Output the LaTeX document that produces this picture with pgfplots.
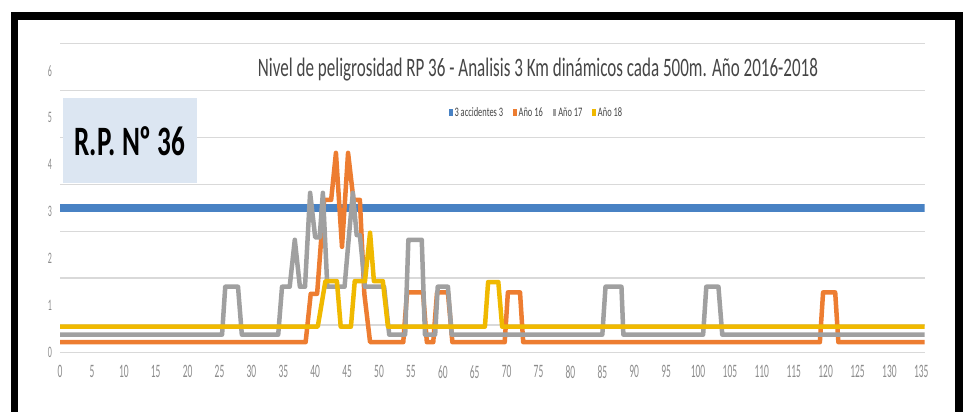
\documentclass[border=0pt]{standalone}
\usepackage{pgfplots}
\pgfplotsset{compat=1.18}
\usepackage{fontspec}
\setmainfont{Carlito}
\newfontfamily\tickfont[FakeStretch=0.5]{Carlito}
\newfontfamily\condfont[FakeStretch=0.65]{Carlito}
\newfontfamily\titlefont[FakeStretch=0.64]{Carlito}
\definecolor{sblue}{RGB}{72,130,196}
\definecolor{sorange}{RGB}{237,125,49}
\definecolor{sgray}{RGB}{160,160,160}
\definecolor{syellow}{RGB}{240,185,0}
\definecolor{gridgray}{RGB}{217,217,217}
\definecolor{labgray}{RGB}{140,140,140}
\definecolor{titlegray}{RGB}{70,70,70}
\definecolor{boxblue}{RGB}{220,230,242}
\begin{document}
\begin{tikzpicture}[x=1bp,y=1bp]
\useasboundingbox (0,0) rectangle (969,412);
\fill[white] (0,0) rectangle (969,412);
\begin{axis}[
  at={(60bp,59.5bp)}, anchor=south west,
  scale only axis, width=864.5bp, height=310bp,
  xmin=0, xmax=135.5, ymin=0, ymax=6.6,
  axis line style={draw=none},
  major tick length=0pt,
  xtick={0,5,...,135}, ytick={0,1,...,6},
  extra y ticks={0,0.58,1.58,2.58,3.58,4.58,5.58,6.58},
  extra y tick labels={},
  extra y tick style={ymajorgrids=true, major grid style={draw=gridgray, line width=1.6bp}},
  /pgf/number format/assume math mode=true,
  yticklabel style={font=\tickfont\fontsize{16}{16}\selectfont, text=labgray, inner sep=0pt, xshift=-8bp},
  xticklabel style={font=\tickfont\fontsize{19}{19}\selectfont, text=labgray, inner sep=0pt, anchor=north, yshift=-13bp},
  legend style={at={(axis cs:74.7,5.1)}, anchor=center, draw=none, fill=none,
    font=\condfont\fontsize{13}{13}\selectfont, text=titlegray,
    /tikz/every even column/.append style={column sep=8bp}},
  legend columns=4,
  legend image code/.code={\fill[#1, draw=none] (0.5bp,-3.5bp) rectangle (4bp,3.5bp);},
  line join=round,
]
\addplot[sblue, line width=8bp] coordinates {(0,3.07) (135.5,3.07)};
\addlegendentry{3 accidentes 3}
\addplot[sorange, line width=4.5bp] coordinates {
(0,0.22) (38.5,0.22) (39.3,1.25) (40.3,1.25) (41.4,3.25) (42.5,3.25) (43.25,4.25) (44.2,2.25) (45.15,4.25) (46,3.25) (47,3.25) (47.7,1.25) (48.6,0.22) (53.8,0.22) (54.4,1.28) (56.9,1.28) (57.5,0.22) (58.5,0.22) (59.1,1.28) (60.8,1.28) (61.5,0.22) (69.7,0.22) (70.2,1.28) (72.1,1.28) (72.6,0.22) (119.1,0.22) (119.6,1.28) (121.5,1.28) (122,0.22) (135.5,0.22)};
\addlegendentry{Año 16}
\addplot[sgray, line width=4.5bp] coordinates {
(0,0.38) (25.4,0.38) (25.9,1.4) (27.9,1.4) (28.5,0.38) (34.2,0.38) (34.8,1.4) (36,1.4) (36.8,2.4) (37.6,1.4) (38.4,1.4) (39.2,3.4) (40,2.45) (40.7,2.45) (41.2,3.4) (41.9,1.4) (44.6,1.4) (45.3,2.5) (45.9,3.4) (46.5,2.5) (47,2.5) (47.8,1.4) (50.8,1.4) (51.6,0.38) (54.1,0.38) (54.6,2.4) (56.7,2.4) (57.2,0.38) (58.8,0.38) (59.2,1.4) (60.8,1.4) (61.4,0.38) (85,0.38) (85.5,1.4) (88,1.4) (88.3,0.38) (100.8,0.38) (101.3,1.4) (103.2,1.4) (103.8,0.38) (135.5,0.38)};
\addlegendentry{Año 17}
\addplot[syellow, line width=4.5bp] coordinates {
(0,0.55) (40.4,0.55) (41.6,1.52) (43.4,1.52) (44,0.55) (45.6,0.55) (46.2,1.52) (47.8,1.52) (48.6,2.55) (49.2,1.52) (50.6,1.52) (51.4,0.55) (66.6,0.55) (67.1,1.5) (68.7,1.5) (69.3,0.55) (135.5,0.55)};
\addlegendentry{Año 18}
\end{axis}
\node[text=titlegray, inner sep=0pt] at (538,342) {\resizebox{560bp}{!}{\titlefont\fontsize{25}{25}\selectfont Nivel de peligrosidad RP 36 - Analisis 3 Km dinámicos cada 500m. Año 2016-2018}};
\fill[boxblue] (63,229) rectangle (197,314);
\node[font=\condfont\bfseries\fontsize{42}{42}\selectfont, anchor=base, inner sep=0pt] at (130,257) {R.P. Nº 36};
\fill[black] (11,0) rectangle (18,400);
\fill[black] (11,392) rectangle (963,400);
\fill[black] (955,0) rectangle (963,400);
\end{tikzpicture}
\end{document}
